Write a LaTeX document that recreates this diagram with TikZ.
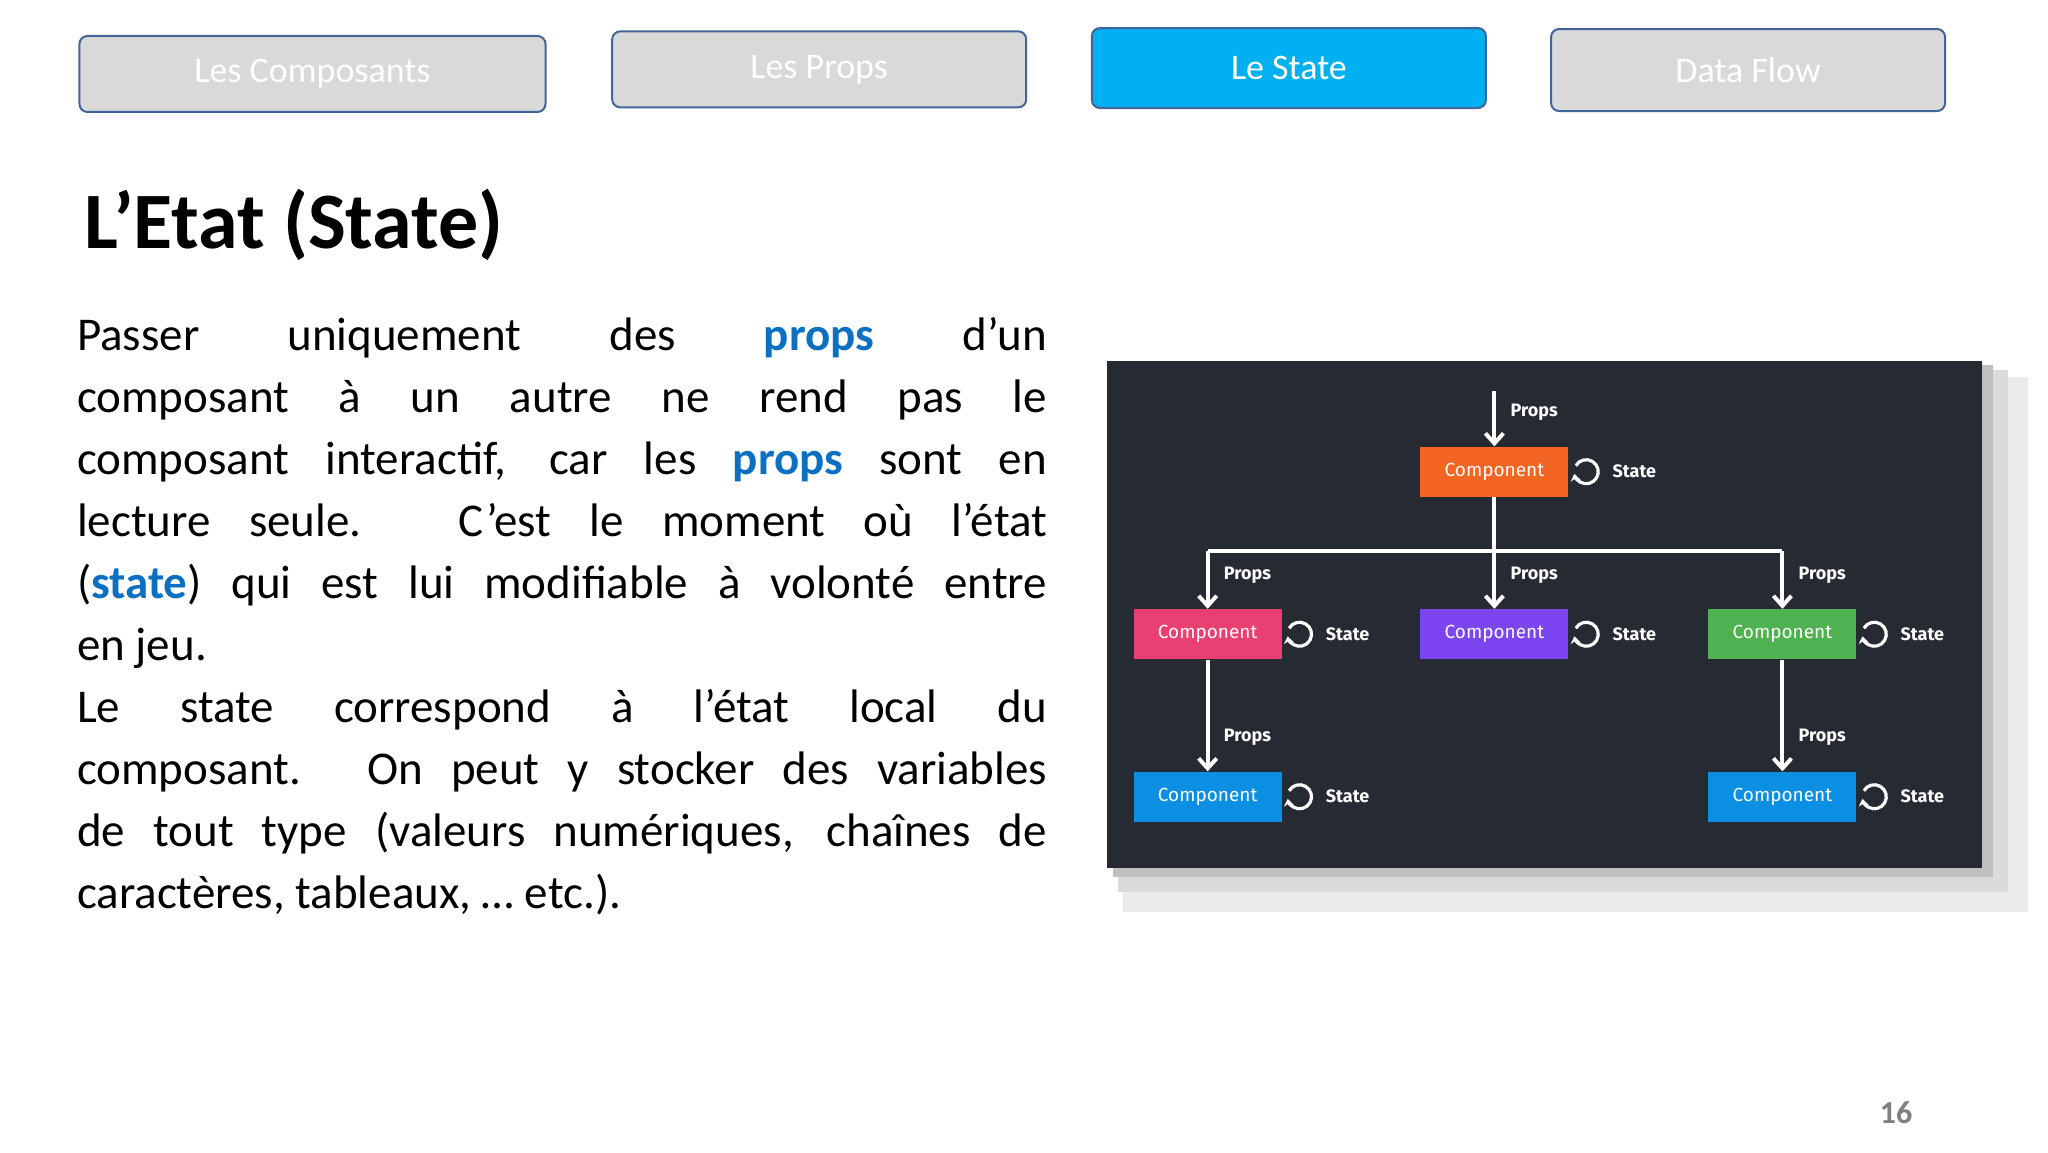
\documentclass[tikz,border=0pt]{standalone}
\usepackage{fontspec}
\setmainfont{Carlito}
\newfontfamily\dfont{Fira Sans}
\usetikzlibrary{arrows.meta,shadows.blur}
\definecolor{tabgray}{HTML}{D9D9D9}
\definecolor{tabborder}{HTML}{41659A}
\definecolor{tabcyan}{HTML}{00B0F0}
\definecolor{kwblue}{HTML}{0B6FC2}
\definecolor{dark}{HTML}{262A33}
\definecolor{corange}{HTML}{F26522}
\definecolor{cpink}{HTML}{EA3F73}
\definecolor{cpurple}{HTML}{7B45F0}
\definecolor{cgreen}{HTML}{4DB24F}
\definecolor{cblue}{HTML}{0B8FE3}
\tikzset{
 tab/.style={draw=tabborder,line width=1pt,rounded corners=4pt,fill=tabgray,text=white,font=\fontsize{18}{20}\selectfont},
 comp/.style={minimum width=74pt,minimum height=25pt,text=white,font=\dfont\fontsize{9.5}{10}\selectfont,inner sep=0pt},
 lab/.style={text=white,font=\dfont\bfseries\fontsize{9}{10}\selectfont,anchor=west,inner sep=0pt},
 arr/.style={white,line width=2pt,-{Straight Barb[length=5pt,width=9pt]}},
}
\newcommand{\stateicon}[2]{%
 \draw[white,line width=1.6pt,-{Stealth[length=3.5pt,width=5pt]}] ($(#1)+(1pt,0)$) ++(150:6pt) arc[start angle=150,end angle=-170,radius=6pt];
 \node[lab] (#2) at ($(#1)+(14pt,0)$) {State};}
\usetikzlibrary{calc}
\begin{document}
\begin{tikzpicture}[x=0.6606pt,y=-0.6606pt]
\useasboundingbox (0,0) rectangle (1550,872);
\fill[white] (0,0) rectangle (1550,872);
% tabs
\node[tab,minimum width=233pt,minimum height=38pt] (t1) at (236.5,56) {Les Composants};
\node[tab,minimum width=207pt,minimum height=38pt] (t2) at (620,52.5) {Les Props};
\node[tab,fill=tabcyan,minimum width=197pt,minimum height=40pt] (t3) at (975.5,51.5) {Le State};
\node[tab,minimum width=197pt,minimum height=41pt] (t4) at (1323,53) {Data Flow};
% title
\node[anchor=west,font=\bfseries\fontsize{40}{44}\selectfont,inner sep=0pt] (title) at (64,170) {L’Etat (State)};
% body
\node[anchor=north west,inner sep=0pt,text width=485pt,font=\fontsize{23.5}{31}\selectfont,align=justify] (body) at (58,240) {%
Passer uniquement des \textbf{\textcolor{kwblue}{props}} d'un\linebreak
composant à un autre ne rend pas le\linebreak
composant interactif, car les \textbf{\textcolor{kwblue}{props}} sont en\linebreak
lecture seule. C'est le moment où l’état\linebreak
(\textbf{\textcolor{kwblue}{state}}) qui est lui modifiable à volonté entre\linebreak
en jeu.\par
Le state correspond à l’état local du\linebreak
composant. On peut y stocker des variables\linebreak
de tout type (valeurs numériques, chaînes de\linebreak
caractères, tableaux, … etc.).};
% page number
\node[text=gray,font=\bfseries\fontsize{16}{18}\selectfont] (pn) at (1435,842) {16};
% diagram
\fill[black!8] (850,285) rectangle (1535,690);
\fill[black!14] (846,280) rectangle (1520,675);
\fill[black!25] (842,276) rectangle (1508,664);
\fill[dark] (838,273) rectangle (1500,657);
\node[comp,fill=corange] (c0) at (1131,357) {Component};
\node[comp,fill=cpink] (c1) at (914,480) {Component};
\node[comp,fill=cpurple] (c2) at (1131,480) {Component};
\node[comp,fill=cgreen] (c3) at (1349,480) {Component};
\node[comp,fill=cblue] (c4) at (914,603) {Component};
\node[comp,fill=cblue] (c5) at (1349,603) {Component};
\coordinate (top) at (1131,296);
\coordinate (hl) at (914,417);
\coordinate (hm) at (1131,417);
\coordinate (hr) at (1349,417);
\draw[arr] (top) -- (c0.north);
\draw[white,line width=2pt] (c0.south) -- (hm);
\draw[white,line width=2pt,line join=round] (hl) -- (hr);
\draw[arr] (hl) -- (c1.north);
\draw[arr] (hm) -- (c2.north);
\draw[arr] (hr) -- (c3.north);
\draw[arr] (c1.south) -- (c4.north);
\draw[arr] (c3.south) -- (c5.north);
\node[lab] (p0) at (1143,312) {Props};
\node[lab] (p1) at (926,435) {Props};
\node[lab] (p2) at (1143,435) {Props};
\node[lab] (p3) at (1361,435) {Props};
\node[lab] (p4) at (926,558) {Props};
\node[lab] (p5) at (1361,558) {Props};
\coordinate (s0) at (1199,357);
\coordinate (s1) at (982,480);
\coordinate (s2) at (1199,480);
\coordinate (s3) at (1417,480);
\coordinate (s4) at (982,603);
\coordinate (s5) at (1417,603);
\stateicon{s0}{l0}
\stateicon{s1}{l1}
\stateicon{s2}{l2}
\stateicon{s3}{l3}
\stateicon{s4}{l4}
\stateicon{s5}{l5}
\end{tikzpicture}
\end{document}
